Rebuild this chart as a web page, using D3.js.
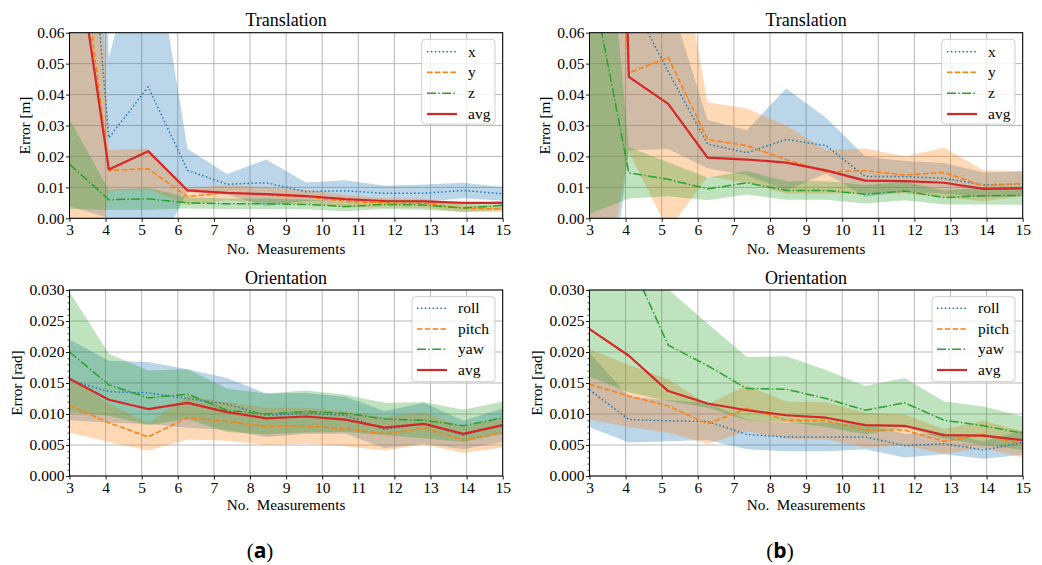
<!DOCTYPE html>
<html><head><meta charset="utf-8">
<script src="https://cdn.jsdelivr.net/npm/d3@7/dist/d3.min.js"></script>
<style>
html,body{margin:0;padding:0;background:#fff;}
svg text{font-family:"Liberation Serif","Times New Roman",serif;fill:#000;}
</style></head>
<body><svg id="c" width="1042" height="565"></svg>
<script>
// ---- data ----
const X = [3, 4.09, 5.18, 6.27, 7.36, 8.45, 9.55, 10.64, 11.73, 12.82, 13.91, 15];
const xTicks = [3,4,5,6,7,8,9,10,11,12,13,14,15];
const yTicksTrans = [0,0.01,0.02,0.03,0.04,0.05,0.06];
const yTicksOri = [0,0.005,0.010,0.015,0.020,0.025,0.030];
const transNames = ["x","y","z","avg"];
const oriNames = ["roll","pitch","yaw","avg"];

// (a) Translation
const tA_x    = [0.174, 0.026, 0.0425, 0.0155, 0.011, 0.0115, 0.0086, 0.0089, 0.0081, 0.0081, 0.009, 0.0079];
const tA_x_sd = [0.17, 0.026, 0.0576, 0.007, 0.0033, 0.0075, 0.003, 0.0034, 0.0024, 0.0028, 0.0025, 0.0022];
const tA_y    = [0.119, 0.0155, 0.016, 0.007, 0.0083, 0.0075, 0.007, 0.0055, 0.005, 0.0048, 0.0033, 0.003];
const tA_y_sd = [0.2, 0.0066, 0.0065, 0.0027, 0.0025, 0.0025, 0.0022, 0.002, 0.0015, 0.0015, 0.0012, 0.001];
const tA_z    = [0.0175, 0.006, 0.0063, 0.005, 0.0047, 0.0047, 0.0045, 0.0038, 0.0045, 0.0043, 0.0033, 0.0042];
const tA_z_sd = [0.0145, 0.0032, 0.0035, 0.0018, 0.0017, 0.0017, 0.0016, 0.0015, 0.0015, 0.0015, 0.0013, 0.0015];
const tA_avg  = [0.1025, 0.0158, 0.0217, 0.009, 0.0082, 0.0078, 0.0072, 0.0062, 0.0056, 0.0055, 0.005, 0.005];

// (b) Translation
const tB_x    = [0.12, 0.072, 0.0474, 0.024, 0.0212, 0.0255, 0.0235, 0.0135, 0.0135, 0.0129, 0.0108, 0.0111];
const tB_x_sd = [0.2, 0.05, 0.025, 0.0078, 0.0073, 0.0165, 0.009, 0.0065, 0.005, 0.005, 0.004, 0.004];
const tB_y    = [0.25, 0.047, 0.052, 0.0255, 0.0235, 0.019, 0.015, 0.0154, 0.014, 0.0148, 0.0105, 0.0113];
const tB_y_sd = [0.3, 0.0255, 0.056, 0.012, 0.012, 0.011, 0.007, 0.0072, 0.006, 0.008, 0.005, 0.004];
const tB_z    = [0.0804, 0.0147, 0.0126, 0.0095, 0.0115, 0.009, 0.009, 0.0078, 0.0088, 0.0067, 0.0073, 0.0074];
const tB_z_sd = [0.0789, 0.0083, 0.0055, 0.0037, 0.0038, 0.003, 0.003, 0.003, 0.003, 0.0022, 0.0028, 0.003];
const tB_avg  = [0.5, 0.0457, 0.037, 0.0196, 0.019, 0.018, 0.0155, 0.0122, 0.012, 0.0115, 0.0095, 0.0097];

// (a) Orientation
const oA_roll     = [0.0155, 0.0136, 0.0134, 0.0125, 0.0116, 0.0098, 0.0101, 0.0098, 0.0075, 0.0085, 0.0066, 0.0082];
const oA_roll_sd  = [0.0065, 0.005, 0.005, 0.0047, 0.0042, 0.0035, 0.0033, 0.003, 0.003, 0.0033, 0.0023, 0.0027];
const oA_pitch    = [0.0114, 0.0086, 0.0063, 0.0094, 0.0088, 0.008, 0.0081, 0.0076, 0.0068, 0.0077, 0.0058, 0.007];
const oA_pitch_sd = [0.0044, 0.0031, 0.0022, 0.0035, 0.0031, 0.003, 0.0029, 0.0028, 0.0027, 0.0026, 0.0021, 0.0024];
const oA_yaw      = [0.02, 0.0147, 0.0126, 0.0132, 0.0106, 0.01, 0.0104, 0.0101, 0.0092, 0.009, 0.0081, 0.0094];
const oA_yaw_sd   = [0.0097, 0.005, 0.0044, 0.004, 0.0035, 0.0033, 0.0034, 0.003, 0.0026, 0.0029, 0.0026, 0.0026];
const oA_avg      = [0.0157, 0.0123, 0.0108, 0.0118, 0.0103, 0.0093, 0.0096, 0.0091, 0.0078, 0.0084, 0.0068, 0.0082];

// (b) Orientation
const oB_roll     = [0.0139, 0.0091, 0.0089, 0.0088, 0.0067, 0.0063, 0.0063, 0.0063, 0.0049, 0.0052, 0.0042, 0.0054];
const oB_roll_sd  = [0.006, 0.0037, 0.0033, 0.003, 0.0024, 0.0023, 0.0023, 0.002, 0.0019, 0.0017, 0.0014, 0.002];
const oB_pitch    = [0.0148, 0.0129, 0.0113, 0.0084, 0.0109, 0.009, 0.0089, 0.0074, 0.0074, 0.0056, 0.0067, 0.0051];
const oB_pitch_sd = [0.0057, 0.005, 0.0043, 0.0032, 0.0037, 0.003, 0.003, 0.0028, 0.0025, 0.002, 0.0022, 0.0021];
const oB_yaw      = [0.045, 0.0352, 0.0211, 0.0178, 0.0141, 0.014, 0.0125, 0.0106, 0.0118, 0.009, 0.0081, 0.0069];
const oB_yaw_sd   = [0.029, 0.0217, 0.009, 0.0068, 0.0051, 0.0053, 0.0046, 0.0039, 0.004, 0.003, 0.0031, 0.0027];
const oB_avg      = [0.0237, 0.0194, 0.0137, 0.0117, 0.0106, 0.0098, 0.0094, 0.0082, 0.0081, 0.0066, 0.0065, 0.0058];

// ---- style ----
const C = {blue:"#1f77b4", orange:"#ff7f0e", green:"#2ca02c", red:"#d62728"};
const LW = 1.5, LWA = 2.2;
const DASH = {dot:"1.5,2.4", dash:"5.5,2.3", dashdot:"9,2.3,1.5,2.3", solid:null};

const svg = d3.select("#c");
svg.append("rect").attr("width",1042).attr("height",565).attr("fill","#fff");

function panel(cfg, idx){
  const L = 69.5 + cfg.ox, R = 502.7 + cfg.ox;
  const T = cfg.top, B = cfg.bottom;
  const x = d3.scaleLinear().domain([3,15]).range([L,R]);
  const y = d3.scaleLinear().domain([0,cfg.yMax]).range([B,T]);
  const g = svg.append("g");
  const cid = "clip"+idx;
  svg.append("defs").append("clipPath").attr("id",cid)
    .append("rect").attr("x",L).attr("y",T).attr("width",R-L).attr("height",B-T);

  // grid
  const grid = g.append("g").attr("stroke","#b0b0b0").attr("stroke-width",0.9);
  xTicks.forEach(t=>grid.append("line").attr("x1",x(t)).attr("x2",x(t)).attr("y1",T).attr("y2",B));
  cfg.yTicks.forEach(t=>grid.append("line").attr("x1",L).attr("x2",R).attr("y1",y(t)).attr("y2",y(t)));

  const plot = g.append("g").attr("clip-path",`url(#${cid})`);
  // bands
  cfg.series.forEach(s=>{
    if(!s.sd) return;
    const data = X.map((xv,i)=>({x:xv, lo:s.mean[i]-s.sd[i], hi:s.mean[i]+s.sd[i]}));
    const area = d3.area().x(d=>x(d.x)).y0(d=>y(d.lo)).y1(d=>y(d.hi));
    plot.append("path").attr("d",area(data)).attr("fill",s.color).attr("fill-opacity",0.3).attr("stroke","none");
  });
  // lines
  cfg.series.forEach(s=>{
    const data = X.map((xv,i)=>({x:xv, v:s.mean[i]}));
    const line = d3.line().x(d=>x(d.x)).y(d=>y(d.v));
    const p = plot.append("path").attr("d",line(data)).attr("fill","none")
      .attr("stroke",s.color).attr("stroke-width",s.lw).attr("stroke-linejoin","round");
    if(DASH[s.dash]) p.attr("stroke-dasharray",DASH[s.dash]);
  });

  // frame
  g.append("rect").attr("x",L).attr("y",T).attr("width",R-L).attr("height",B-T)
    .attr("fill","none").attr("stroke","#000").attr("stroke-width",1);

  // axes
  const xa = g.append("g").attr("transform",`translate(0,${B})`)
    .call(d3.axisBottom(x).tickValues(xTicks).tickFormat(d3.format("d")).tickSize(3.5).tickPadding(2.2).tickSizeOuter(0));
  const ya = g.append("g").attr("transform",`translate(${L},0)`)
    .call(d3.axisLeft(y).tickValues(cfg.yTicks).tickFormat(d3.format(cfg.fmt)).tickSize(3.5).tickPadding(1.6).tickSizeOuter(0));
  [xa,ya].forEach(a=>{
    a.select(".domain").remove();
    a.selectAll("line").attr("stroke","#000").attr("stroke-width",0.9);
    a.selectAll("text").attr("font-size","15.5px").attr("fill","#000");
  });
  if(cfg.minor){
    const ym = g.append("g").attr("transform",`translate(${L},0)`)
      .call(d3.axisLeft(y).tickValues(cfg.minor).tickFormat("").tickSize(2).tickSizeOuter(0));
    ym.select(".domain").remove();
    ym.selectAll("line").attr("stroke","#000").attr("stroke-width",0.7);
  }

  // texts
  g.append("text").attr("x",(L+R)/2).attr("y",cfg.titleY).attr("text-anchor","middle")
    .attr("font-size","18px").text(cfg.title);
  g.append("text").attr("x",(L+R)/2).attr("y",cfg.xlabY).attr("text-anchor","middle")
    .attr("font-size","15.2px").text("No.\u00a0 Measurements");
  g.append("text").attr("transform",`translate(${cfg.ox+cfg.ylabX},${(T+B)/2}) rotate(-90)`)
    .attr("text-anchor","middle").attr("font-size","15.2px").text(cfg.ylabel);

  // legend
  const lg = cfg.legend;
  const lgG = g.append("g");
  lgG.append("rect").attr("x",cfg.ox+lg.x0).attr("y",lg.y0).attr("width",lg.x1-lg.x0).attr("height",lg.y1-lg.y0)
    .attr("rx",3).attr("fill","#fff").attr("fill-opacity",0.8).attr("stroke","#d0d0d0").attr("stroke-width",1);
  cfg.series.forEach((s,i)=>{
    const yy = lg.rows[i];
    const l = lgG.append("line").attr("x1",cfg.ox+lg.lx0).attr("x2",cfg.ox+lg.lx1).attr("y1",yy).attr("y2",yy)
      .attr("stroke",s.color).attr("stroke-width",s.lw);
    if(DASH[s.dash]) l.attr("stroke-dasharray",DASH[s.dash]);
    lgG.append("text").attr("x",cfg.ox+lg.tx).attr("y",yy+5).attr("font-size","15.5px").text(s.name);
  });
}

function mk(names, arrs){
  const cols=[C.blue,C.orange,C.green,C.red], dashes=["dot","dash","dashdot","solid"];
  return names.map((n,i)=>({name:n, mean:arrs[i][0], sd:arrs[i][1], color:cols[i], dash:dashes[i], lw:i===3?LWA:LW}));
}

const legTop = {x0:421.7,x1:495,y0:39.3,y1:124,lx0:427,lx1:457,tx:468,rows:[51.7,72.3,93.3,114]};
const legBot = {x0:412,x1:495,y0:296.7,y1:381.7,lx0:417,lx1:447,tx:458,rows:[308.3,329,349.3,370]};
const minorOri = d3.range(0,31).map(i=>i/1000).filter(v=>Math.round(v*1000)%5!==0);

const topCfg = (ox, s)=>({ox, top:32.7, bottom:218.3, yMax:0.06, yTicks:yTicksTrans, fmt:".2f",
  title:"Translation", titleY:26, xlabY:254, ylabX:30, ylabel:"Error [m]", legend:legTop, series:s});
const botCfg = (ox, s)=>({ox, top:290, bottom:476, yMax:0.03, yTicks:yTicksOri, fmt:".3f", minor:minorOri,
  title:"Orientation", titleY:284, xlabY:510, ylabX:22, ylabel:"Error [rad]", legend:legBot, series:s});

panel(topCfg(0, mk(transNames, [[tA_x,tA_x_sd],[tA_y,tA_y_sd],[tA_z,tA_z_sd],[tA_avg,null]])), 0);
panel(topCfg(520, mk(transNames, [[tB_x,tB_x_sd],[tB_y,tB_y_sd],[tB_z,tB_z_sd],[tB_avg,null]])), 1);
panel(botCfg(0, mk(oriNames, [[oA_roll,oA_roll_sd],[oA_pitch,oA_pitch_sd],[oA_yaw,oA_yaw_sd],[oA_avg,null]])), 2);
panel(botCfg(520, mk(oriNames, [[oB_roll,oB_roll_sd],[oB_pitch,oB_pitch_sd],[oB_yaw,oB_yaw_sd],[oB_avg,null]])), 3);

// captions
[["a",260],["b",780]].forEach(([c,cx])=>{
  const t = svg.append("text").attr("x",cx).attr("y",558).attr("text-anchor","middle").attr("font-size","21px");
  t.append("tspan").text("(");
  t.append("tspan").attr("style","font-family:'Open Sans',sans-serif;font-weight:bold").text(c);
  t.append("tspan").text(")");
});
</script></body></html>
